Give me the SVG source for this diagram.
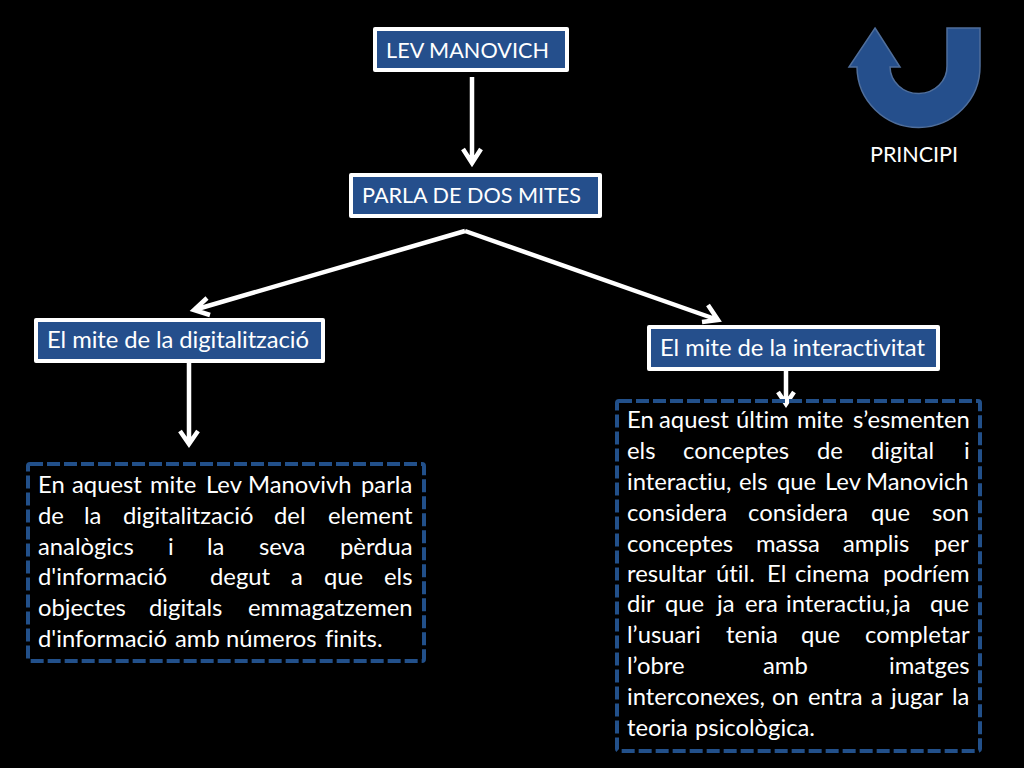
<svg xmlns="http://www.w3.org/2000/svg" width="1024" height="768" viewBox="0 0 1024 768">
<style>
text{font-family:"Lato","Open Sans","Liberation Sans",sans-serif;font-size:23.8px;fill:#fff;font-variant-ligatures:none}
text.caps{font-size:21.6px}
.box{fill:#254f8c;stroke:#fff;stroke-width:4;stroke-linejoin:round}
.dash{fill:none;stroke:#22508a;stroke-width:4;stroke-dasharray:13 4}
.c{fill:none;stroke:#fff;stroke-width:4.5}
</style>
<rect width="1024" height="768" fill="#000"/>
<g id="connectors">
<path class="c" d="M472 77V163M463 149L472 163L481 149"/>
<path class="c" d="M465 231L194 310M207 298L194 310L210 315"/>
<path class="c" d="M465 231L718 320M702 322L718 320L708 305"/>
<path class="c" d="M189 363V444M180 431L189 444L198 431"/>
<path class="c" d="M786 371V404M778 392L786 404L794 392"/>
</g>
<g id="n1"><rect class="box" x="375" y="29" width="192" height="41"/><text class="caps" x="386" y="58" textLength="163">LEV MANOVICH</text></g>
<g id="n2"><rect class="box" x="351" y="175" width="249" height="41"/><text class="caps" x="362" y="203" textLength="219">PARLA DE DOS MITES</text></g>
<g id="n3"><rect class="box" x="36" y="320" width="287" height="41"/><text x="47" y="348" textLength="262">El mite de la digitalització</text></g>
<g id="n4"><rect class="box" x="649" y="327" width="289" height="42"/><text x="660" y="356" textLength="265">El mite de la interactivitat</text></g>
<g id="principi"><path d="M875 28L900 67H890A28.5 27 0 0 0 947 66V28H980V66A61.5 61 0 0 1 857 67H849Z" fill="#254f8c" stroke="#4f6e9b" stroke-width="1.5"/><text class="caps" x="870" y="162" textLength="88">PRINCIPI</text></g>
<g id="text-left">
<rect class="dash" x="28" y="464" width="396" height="197" rx="2"/>
<text y="493"><tspan x="38">En</tspan><tspan x="72">aquest</tspan><tspan x="150">mite</tspan><tspan x="206">Lev</tspan><tspan x="248">Manovivh</tspan><tspan x="361">parla</tspan></text>
<text y="524"><tspan x="38">de</tspan><tspan x="84">la</tspan><tspan x="123">digitalització</tspan><tspan x="274">del</tspan><tspan x="328">element</tspan></text>
<text y="555"><tspan x="38">analògics</tspan><tspan x="168">i</tspan><tspan x="207">la</tspan><tspan x="259">seva</tspan><tspan x="340">pèrdua</tspan></text>
<text y="585"><tspan x="38">d'informació</tspan><tspan x="210">degut</tspan><tspan x="291">a</tspan><tspan x="324">que</tspan><tspan x="384">els</tspan></text>
<text y="616"><tspan x="38">objectes</tspan><tspan x="149">digitals</tspan><tspan x="248">emmagatzemen</tspan></text>
<text y="647"><tspan x="38">d'informació</tspan><tspan x="175">amb</tspan><tspan x="226">números</tspan><tspan x="325">finits.</tspan></text>
</g>
<g id="text-right">
<rect class="dash" x="617" y="401" width="363" height="350" rx="2"/>
<text y="428"><tspan x="627">En</tspan><tspan x="659">aquest</tspan><tspan x="736">últim</tspan><tspan x="797">mite</tspan><tspan x="853">s’esmenten</tspan></text>
<text y="459"><tspan x="627">els</tspan><tspan x="683">conceptes</tspan><tspan x="817">de</tspan><tspan x="871">digital</tspan><tspan x="964">i</tspan></text>
<text y="490"><tspan x="627">interactiu,</tspan><tspan x="739">els</tspan><tspan x="777">que</tspan><tspan x="825">Lev</tspan><tspan x="866">Manovich</tspan></text>
<text y="521"><tspan x="627">considera</tspan><tspan x="748">considera</tspan><tspan x="871">que</tspan><tspan x="932">son</tspan></text>
<text y="552"><tspan x="627">conceptes</tspan><tspan x="756">massa</tspan><tspan x="843">amplis</tspan><tspan x="934">per</tspan></text>
<text y="582"><tspan x="627">resultar</tspan><tspan x="716">útil.</tspan><tspan x="767">El</tspan><tspan x="795">cinema</tspan><tspan x="883">podríem</tspan></text>
<text y="612"><tspan x="627">dir</tspan><tspan x="665">que</tspan><tspan x="717">ja</tspan><tspan x="745">era</tspan><tspan x="786">interactiu,</tspan><tspan x="893">ja</tspan><tspan x="930">que</tspan></text>
<text y="643"><tspan x="627">l’usuari</tspan><tspan x="726">tenia</tspan><tspan x="801">que</tspan><tspan x="865">completar</tspan></text>
<text y="674"><tspan x="627">l’obre</tspan><tspan x="763">amb</tspan><tspan x="889">imatges</tspan></text>
<text y="705"><tspan x="627">interconexes,</tspan><tspan x="772">on</tspan><tspan x="808">entra</tspan><tspan x="871">a</tspan><tspan x="891">jugar</tspan><tspan x="952">la</tspan></text>
<text y="736"><tspan x="627">teoria</tspan><tspan x="695">psicològica.</tspan></text>
</g>
</svg>
